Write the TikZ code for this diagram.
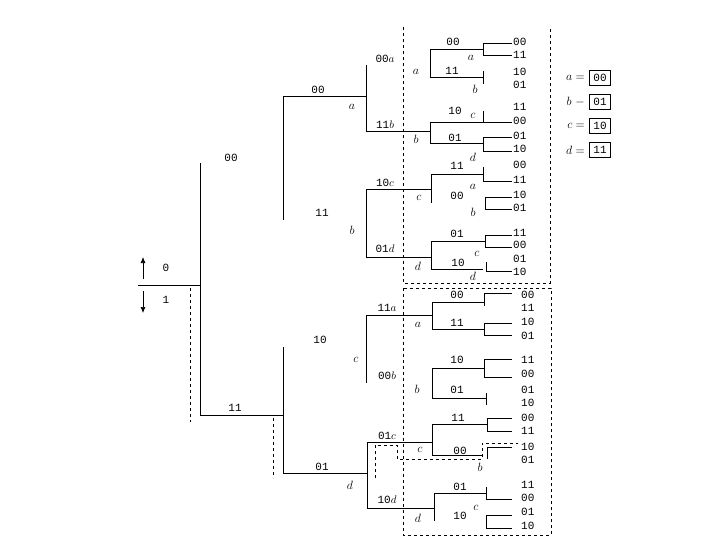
\documentclass[tikz,border=0pt]{standalone}
\usepackage{fontspec}
\setmonofont{Liberation Mono}
\usetikzlibrary{arrows.meta}

\begin{document}
\begin{tikzpicture}[
    x=1pt, y=-1pt, >={Latex[length=6pt, width=5pt]},
    branch/.style={line width=0.7pt},
    guide/.style={dashed, line width=0.5pt},
    bits/.style={font=\ttfamily\fontsize{11}{11}\selectfont, inner sep=1pt},
    leaf/.style={bits, anchor=west},
    state/.style={font=\fontsize{12}{12}\selectfont, inner sep=1pt},
    keybox/.style={draw, line width=0.6pt, bits, minimum width=21pt, minimum height=15pt}
]
\useasboundingbox (0,0) rectangle (720,540);

% root and input arrows
\draw[branch] (138,285) -- (200,285);
\draw[->, branch] (143,279) -- (143,257);
\draw[->, branch] (143,291) -- (143,313);
\node[bits] (in0) at (166,268) {0};
\node[bits] (in1) at (166,300) {1};

% first and second level
\draw[branch] (200,163) -- (200,415) -- (283,415);
\node[bits] (e1a) at (231,158) {00};
\node[bits] (e1b) at (235,408) {11};

\draw[branch] (366,96) -- (283,96) -- (283,220);
\draw[branch] (283,347) -- (283,473) -- (367,473);
\node[bits] (e2a) at (318,90) {00};
\node[bits] (e2b) at (322,213) {11};
\node[bits] (e2c) at (320,340) {10};
\node[bits] (e2d) at (322,467) {01};
\node[state] (s2a) at (352,107) {$a$};
\node[state] (s2b) at (352,230) {$b$};
\node[state] (s2c) at (356,360) {$c$};
\node[state] (s2d) at (350,485) {$d$};

% third level
\draw[branch] (366,65) -- (366,131) -- (430,131);
\draw[branch] (431,189) -- (366,189) -- (366,257) -- (431,257);
\draw[branch] (432,315) -- (366,315) -- (366,383);
\draw[branch] (432,442) -- (367,442) -- (367,508) -- (434,508);
\node[bits] (e3a) at (385,59) {00$a$};
\node[bits] (e3b) at (385,125) {11$b$};
\node[bits] (e3c) at (385,183) {10$c$};
\node[bits] (e3d) at (385,249) {01$d$};
\node[bits] (e3e) at (387,308) {11$a$};
\node[bits] (e3f) at (387,376) {00$b$};
\node[bits] (e3g) at (387,436) {01$c$};
\node[bits] (e3h) at (387,500) {10$d$};

% fourth level, upper half
\draw[branch] (483,49) -- (430,49) -- (430,77) -- (483,77);
\draw[branch] (512,43) -- (483,43) -- (483,55) -- (512,55);
\draw[branch] (483,71) -- (483,84);
\draw[branch] (483,122) -- (430,122) -- (430,143) -- (483,143);
\draw[branch] (483,111) -- (483,122) -- (512,122);
\draw[branch] (512,137) -- (483,137) -- (483,151) -- (512,151);
\draw[branch] (483,174) -- (431,174) -- (431,203);
\draw[branch] (483,167) -- (483,181) -- (512,181);
\draw[branch] (512,197) -- (485,197) -- (485,209) -- (512,209);
\draw[branch] (485,241) -- (431,241) -- (431,269) -- (483,269);
\draw[branch] (512,235) -- (485,235) -- (485,247) -- (512,247);
\draw[branch] (486,262) -- (486,271) -- (512,271);

% fourth level, lower half
\draw[branch] (484,302) -- (432,302) -- (432,329) -- (484,329);
\draw[branch] (512,293) -- (484,293) -- (484,306);
\draw[branch] (512,323) -- (484,323) -- (484,335) -- (512,335);
\draw[branch] (484,368) -- (432,368) -- (432,398) -- (486,398);
\draw[branch] (512,359) -- (484,359) -- (484,377) -- (512,377);
\draw[branch] (486,393) -- (486,405);
\draw[branch] (487,424) -- (432,424) -- (432,455) -- (482,455);
\draw[branch] (512,418) -- (487,418) -- (487,431) -- (512,431);
\draw[branch] (487,459) -- (487,447) -- (512,447);
\draw[branch] (486,493) -- (434,493) -- (434,521);
\draw[branch] (486,487) -- (486,499) -- (512,499);
\draw[branch] (512,515) -- (486,515) -- (486,528) -- (512,528);

\node[bits] (e4a) at (453,42) {00};
\node[bits] (e4b) at (452,71) {11};
\node[bits] (e4c) at (455,111) {10};
\node[bits] (e4d) at (455,138) {01};
\node[bits] (e4e) at (457,166) {11};
\node[bits] (e4f) at (457,196) {00};
\node[bits] (e4g) at (457,234) {01};
\node[bits] (e4h) at (458,263) {10};
\node[bits] (e4i) at (457,295) {00};
\node[bits] (e4j) at (457,323) {11};
\node[bits] (e4k) at (457,360) {10};
\node[bits] (e4l) at (457,390) {01};
\node[bits] (e4m) at (458,418) {11};
\node[bits] (e4n) at (460,451) {00};
\node[bits] (e4o) at (460,487) {01};
\node[bits] (e4p) at (460,516) {10};

\node[state] (s4a) at (416,72) {$a$};
\node[state] (s4b) at (416,139) {$b$};
\node[state] (s4c) at (419,198) {$c$};
\node[state] (s4d) at (418,266) {$d$};
\node[state] (s4e) at (418,325) {$a$};
\node[state] (s4f) at (417,389) {$b$};
\node[state] (s4g) at (420,450) {$c$};
\node[state] (s4h) at (418,518) {$d$};

\node[state] (s5a) at (471,58) {$a$};
\node[state] (s5b) at (475,89) {$b$};
\node[state] (s5c) at (473,116) {$c$};
\node[state] (s5d) at (473,157) {$d$};
\node[state] (s5e) at (473,187) {$a$};
\node[state] (s5f) at (473,212) {$b$};
\node[state] (s5g) at (477,254) {$c$};
\node[state] (s5h) at (473,276) {$d$};
\node[state] (s5i) at (480,467) {$b$};
\node[state] (s5j) at (476,508) {$c$};

% outputs
\node[leaf] (o1) at (512,42) {00};
\node[leaf] (o2) at (512,55) {11};
\node[leaf] (o3) at (512,72) {10};
\node[leaf] (o4) at (512,85) {01};
\node[leaf] (o5) at (512,107) {11};
\node[leaf] (o6) at (512,121) {00};
\node[leaf] (o7) at (512,136) {01};
\node[leaf] (o8) at (512,149) {10};
\node[leaf] (o9) at (512,165) {00};
\node[leaf] (o10) at (512,180) {11};
\node[leaf] (o11) at (512,195) {10};
\node[leaf] (o12) at (512,208) {01};
\node[leaf] (o13) at (512,233) {11};
\node[leaf] (o14) at (512,245) {00};
\node[leaf] (o15) at (512,259) {01};
\node[leaf] (o16) at (512,272) {10};
\node[leaf] (o17) at (520,295) {00};
\node[leaf] (o18) at (520,308) {11};
\node[leaf] (o19) at (520,322) {10};
\node[leaf] (o20) at (520,336) {01};
\node[leaf] (o21) at (520,360) {11};
\node[leaf] (o22) at (520,374) {00};
\node[leaf] (o23) at (520,390) {01};
\node[leaf] (o24) at (520,403) {10};
\node[leaf] (o25) at (520,418) {00};
\node[leaf] (o26) at (520,431) {11};
\node[leaf] (o27) at (520,447) {10};
\node[leaf] (o28) at (520,460) {01};
\node[leaf] (o29) at (520,485) {11};
\node[leaf] (o30) at (520,498) {00};
\node[leaf] (o31) at (520,512) {01};
\node[leaf] (o32) at (520,526) {10};

% dashed marks
\draw[guide] (190,288) -- (190,422);
\draw[guide] (273,418) -- (273,478);
\draw[guide] (403,27) -- (403,283) -- (550,283) -- (550,27);
\draw[guide] (403,288) rectangle (551,535);
\draw[guide] (375,478) -- (375,445) -- (397,445) -- (397,459) -- (482,459) -- (482,443) -- (518,443);

% state key
\node[state, anchor=east] (ka) at (586,78) {$a =$};
\node[state, anchor=east] (kb) at (586,102) {$b\ -$};
\node[state, anchor=east] (kc) at (586,126) {$c =$};
\node[state, anchor=east] (kd) at (586,150) {$d =$};
\node[keybox] (va) at (600,78) {00};
\node[keybox] (vb) at (600,102) {01};
\node[keybox] (vc) at (600,126) {10};
\node[keybox] (vd) at (600,150) {11};

\end{tikzpicture}
\end{document}
